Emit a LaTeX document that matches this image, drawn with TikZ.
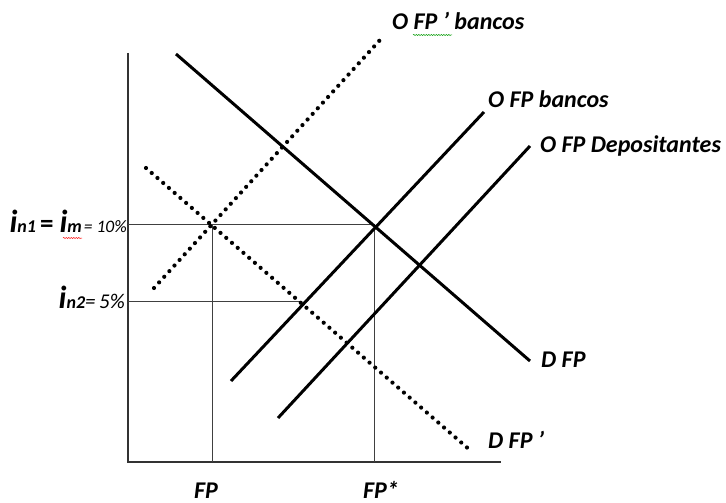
\documentclass[tikz,border=0pt]{standalone}
\usepackage{fontspec}
\setmainfont{Carlito}
\usetikzlibrary{decorations.pathmorphing}
\begin{document}
\begin{tikzpicture}[x=1pt,y=-1pt,
  solidcurve/.style={line width=3pt},
  dotcurve/.style={line width=4.2pt, line cap=round, dash pattern=on 0pt off 7.6pt},
  axisline/.style={line width=1.8pt, draw=black!80},
  guide/.style={line width=0.8pt, draw=black!75},
  lab/.style={font=\fontsize{24}{26}\selectfont\bfseries\itshape, inner sep=0pt, anchor=base west},
  eqlab/.style={inner sep=0pt, anchor=base east},
  spell/.style={decorate, decoration={snake, amplitude=0.6pt, segment length=2.5pt}, line width=0.5pt},
]
\useasboundingbox (0,0) rectangle (726,503);
% axes
\coordinate (O) at (128,462);
\coordinate (Ytop) at (128,53);
\coordinate (Xend) at (501,462);
\draw[axisline] (Ytop) -- (O) -- (Xend);
% curve end points
\coordinate (D1) at (176,54);   \coordinate (D2) at (530,361);
\coordinate (B1) at (231,381);  \coordinate (B2) at (484,112);
\coordinate (P1) at (278,418);  \coordinate (P2) at (530,146);
\coordinate (Bp1) at (154,288); \coordinate (Bp2) at (380,40);
\coordinate (Dp1) at (146,168); \coordinate (Dp2) at (471,451);
% guide points
\coordinate (E) at (374,224);   \coordinate (Ea) at (212,224);
\coordinate (L) at (300,301);
\coordinate (Ey) at (128,224);  \coordinate (Ly) at (128,301);
\coordinate (Ex) at (374,462);  \coordinate (Eax) at (212,462);
\draw[guide] (Ey) -- (E);
\draw[guide] (Ly) -- (L);
\draw[guide] (Ea) -- (Eax);
\draw[guide] (E) -- (Ex);
% curves
\draw[solidcurve] (D1) -- (D2);
\draw[solidcurve] (B1) -- (B2);
\draw[solidcurve] (P1) -- (P2);
\draw[dotcurve] (Bp1) -- (Bp2);
\draw[dotcurve] (Dp1) -- (Dp2);
% labels
\node[lab] (lOFPpb) at (392,30) {O FP ’ bancos};
\node[lab] (lOFPb) at (488,107) {O FP bancos};
\node[lab] (lOFPd) at (540,152) {O FP Depositantes};
\node[lab] (lDFP) at (541,367) {D FP};
\node[lab] (lDFPp) at (488,448) {D FP ’};
\node[lab] (lFP) at (194,498) {FP};
\node[lab] (lFPs) at (363,498) {FP*};
\node[eqlab] (lin1) at (127,232) {{\fontsize{32}{32}\selectfont\bfseries\itshape i}{\fontsize{18}{18}\selectfont\bfseries\itshape n1}\hspace{4pt}{\fontsize{27}{27}\selectfont\bfseries =}\hspace{6pt}{\fontsize{32}{32}\selectfont\bfseries\itshape i}{\fontsize{18}{18}\selectfont\bfseries\itshape m}\hspace{2pt}{\fontsize{17.5}{17.5}\selectfont\itshape = 10\%}};
\node[eqlab] (lin2) at (125,308) {{\fontsize{32}{32}\selectfont\bfseries\itshape i}{\fontsize{18}{18}\selectfont\bfseries\itshape n2}{\fontsize{21}{21}\selectfont\itshape =\,5\%}};
% spell-check marks
\coordinate (g1) at (413,35); \coordinate (g2) at (452,35);
\draw[spell, draw=green!60!black] (g1) -- (g2);
\coordinate (r1) at (63,238); \coordinate (r2) at (82,238);
\draw[spell, draw=red] (r1) -- (r2);
\end{tikzpicture}
\end{document}
